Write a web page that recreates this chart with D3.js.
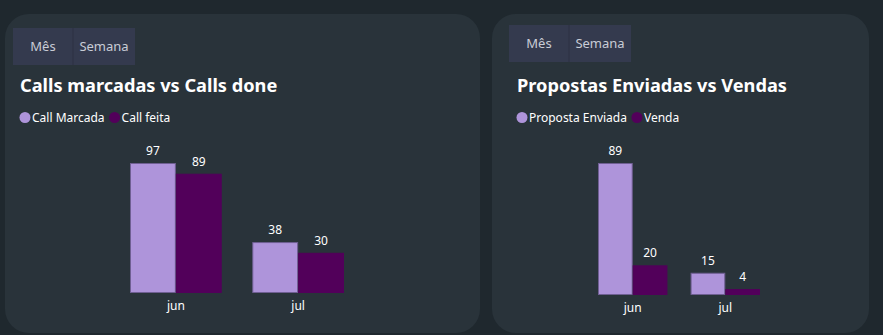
<!DOCTYPE html>
<html>
<head>
<meta charset="utf-8">
<script src="https://cdn.jsdelivr.net/npm/d3@7"></script>
<style>
  body { margin: 0; background: #1f282e; }
  svg { display: block; font-family: "Noto Sans", "Open Sans", sans-serif; }
</style>
</head>
<body>
<svg id="base" width="883" height="335"></svg>
<script>
// data
const months = ["jun", "jul"];
const callsSeries = ["Call Marcada", "Call feita"];
const callMarcada = [97, 38];
const callFeita = [89, 30];
const propostaSeries = ["Proposta Enviada", "Venda"];
const propostaEnviada = [89, 15];
const venda = [20, 4];
const buttons = ["Mês", "Semana"];

const colors = ["#ae94da", "#52005a"];
const strokes = ["#6f5f92", "#52005a"];

var svgBase = d3.select("#base");

function drawCard(opt) {
    var g = svgBase.append("g").attr("transform", "translate(" + opt.x + "," + opt.y + ")");

    g.append("rect")
        .attr("width", opt.w)
        .attr("height", opt.h)
        .attr("rx", 24)
        .attr("fill", "#29333a");

    // slicer buttons
    var bx = opt.btnX;
    buttons.forEach(function (b, i) {
        var bw = i == 0 ? 60 : 62;
        g.append("rect")
            .attr("x", bx).attr("y", opt.btnY)
            .attr("width", bw).attr("height", 37)
            .attr("fill", "#343a4e");
        if (i > 0) {
            g.append("line")
                .attr("x1", bx).attr("x2", bx)
                .attr("y1", opt.btnY).attr("y2", opt.btnY + 37)
                .attr("stroke", "#2c3142").attr("stroke-width", 1);
        }
        g.append("text")
            .attr("x", bx + bw / 2).attr("y", opt.btnY + 23)
            .attr("text-anchor", "middle")
            .attr("fill", "#c9ccd6")
            .style("font-size", "13px")
            .text(b);
        bx += bw;
    });

    g.append("text")
        .attr("x", opt.titleX).attr("y", 78)
        .attr("fill", "#ffffff")
        .style("font-size", "18.2px")
        .style("font-weight", "bold")
        .text(opt.title);

    // legend
    var lx = opt.titleX + 5;
    opt.series.forEach(function (s, i) {
        g.append("circle")
            .attr("cx", lx).attr("cy", 103.5)
            .attr("r", 5.5)
            .attr("fill", colors[i]);
        var t = g.append("text")
            .attr("x", lx + 7).attr("y", 108)
            .attr("fill", "#ffffff")
            .style("font-size", "12px")
            .text(s);
        lx += 7 + t.node().getComputedTextLength() + 10;
    });

    // bars
    var x0 = d3.scaleBand()
        .domain(months)
        .range(opt.xRange)
        .paddingInner(0.25)
        .paddingOuter(0);
    var x1 = d3.scaleBand()
        .domain(opt.series)
        .range([0, x0.bandwidth()]);
    var y = d3.scaleLinear()
        .domain([0, d3.max(opt.values, function (v) { return d3.max(v); })])
        .range([opt.baseY, opt.topY]);

    var rows = months.map(function (m, i) {
        return { month: m, vals: opt.series.map(function (s, j) { return { s: s, j: j, v: opt.values[j][i] }; }) };
    });

    var groups = g.selectAll("g.month")
        .data(rows)
        .enter()
        .append("g")
        .attr("class", "month")
        .attr("transform", function (d) { return "translate(" + x0(d.month) + ",0)"; });

    groups.selectAll("rect")
        .data(function (d) { return d.vals; })
        .enter()
        .append("rect")
        .attr("x", function (d) { return x1(d.s) + 0.5; })
        .attr("y", function (d) { return y(d.v) + 0.5; })
        .attr("width", x1.bandwidth() - 1)
        .attr("height", function (d) { return y(0) - y(d.v) - 1; })
        .attr("fill", function (d) { return colors[d.j]; })
        .attr("stroke", function (d) { return strokes[d.j]; })
        .attr("stroke-width", 1);

    groups.selectAll("text")
        .data(function (d) { return d.vals; })
        .enter()
        .append("text")
        .attr("x", function (d) { return x1(d.s) + x1.bandwidth() / 2; })
        .attr("y", function (d) { return y(d.v) - 8; })
        .attr("text-anchor", "middle")
        .attr("fill", "#ffffff")
        .style("font-size", "12px")
        .text(function (d) { return d.v; });

    var axis = g.append("g")
        .attr("transform", "translate(0," + opt.baseY + ")")
        .call(d3.axisBottom(x0).tickSize(0).tickPadding(8));
    axis.select(".domain").remove();
    axis.selectAll("text")
        .attr("fill", "#ffffff")
        .style("font-size", "12px")
        .style("font-family", "\"Noto Sans\", sans-serif");
}

drawCard({
    x: 5, y: 14, w: 475, h: 319,
    btnX: 8, btnY: 14,
    titleX: 15,
    title: "Calls marcadas vs Calls done",
    series: callsSeries,
    values: [callMarcada, callFeita],
    xRange: [125, 339],
    baseY: 279, topY: 149
});

drawCard({
    x: 492, y: 14, w: 377, h: 319,
    btnX: 17, btnY: 11,
    titleX: 25,
    title: "Propostas Enviadas vs Vendas",
    series: propostaSeries,
    values: [propostaEnviada, venda],
    xRange: [106, 268],
    baseY: 281, topY: 149
});
</script>
</body>
</html>
